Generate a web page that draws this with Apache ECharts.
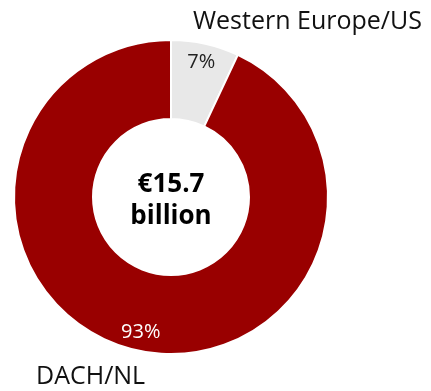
<!DOCTYPE html>
<html>
<head>
<meta charset="utf-8">
<script src="https://cdn.jsdelivr.net/npm/echarts@6/dist/echarts.min.js"></script>
<style>
  html, body { margin: 0; padding: 0; background: #fff; }
  #chart { width: 431px; height: 391px; }
</style>
</head>
<body>
<div id="chart"></div>
<script>
// Revenue split by region
const regions = ['Western Europe/US', 'DACH/NL'];
const shares = [7, 93];
const colors = ['#E8E8E8', '#990000'];
const labelColors = ['#222222', '#ffffff'];
const totalText = '€15.7\nbillion';

const FONT = '"Open Sans", "Noto Sans", sans-serif';
const center = [171, 197];

const chart = echarts.init(document.getElementById('chart'), null, { renderer: 'canvas' });
chart.setOption({
  animation: false,
  series: [
    {
      type: 'pie',
      center,
      radius: [78, 157],
      startAngle: 90,
      clockwise: true,
      silent: true,
      itemStyle: { borderColor: '#ffffff', borderWidth: 2 },
      label: { show: false },
      labelLine: { show: false },
      data: regions.map((name, i) => ({
        name,
        value: shares[i],
        itemStyle: { color: colors[i] }
      }))
    },
    {
      // percentage labels sit nearer the outer edge of the ring
      type: 'pie',
      center,
      radius: [114, 157],
      startAngle: 90,
      clockwise: true,
      silent: true,
      itemStyle: { color: 'transparent', borderWidth: 0 },
      label: {
        show: true,
        position: 'inside',
        formatter: p => p.value + '%',
        fontFamily: FONT,
        fontSize: 20
      },
      labelLine: { show: false },
      data: regions.map((name, i) => ({
        name,
        value: shares[i],
        label: { color: labelColors[i] }
      }))
    }
  ],
  graphic: [
    {
      type: 'text',
      z: 100,
      style: {
        x: center[0],
        y: 201,
        text: totalText,
        align: 'center',
        verticalAlign: 'middle',
        font: 'bold 26px ' + FONT,
        lineHeight: 32,
        fill: '#000000'
      }
    },
    {
      type: 'text',
      z: 100,
      style: {
        x: 193, y: 22,
        text: regions[0],
        verticalAlign: 'middle',
        font: '25px ' + FONT,
        fill: '#111111'
      }
    },
    {
      type: 'text',
      z: 100,
      style: {
        x: 36, y: 377,
        text: regions[1],
        verticalAlign: 'middle',
        font: '25px ' + FONT,
        fill: '#111111'
      }
    }
  ]
});
</script>
</body>
</html>
